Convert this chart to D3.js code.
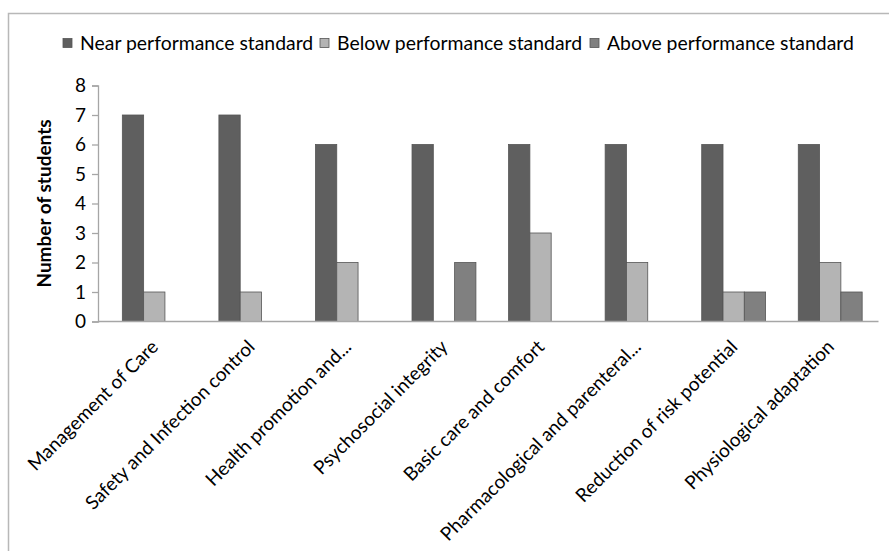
<!DOCTYPE html>
<html><head><meta charset="utf-8">
<script src="https://cdn.jsdelivr.net/npm/d3@7"></script>
<style>body{margin:0;background:#fff}svg{display:block}</style></head>
<body><svg id="c" width="889" height="551"></svg>
<script>
const categories = ["Management of Care","Safety and Infection control","Health promotion and...","Psychosocial integrity","Basic care and comfort","Pharmacological and parenteral...","Reduction of risk potential","Physiological adaptation"];
const seriesNames = ["Near performance standard","Below performance standard","Above performance standard"];
const nearValues = [7,7,6,6,6,6,6,6];
const belowValues = [1,1,2,0,3,2,1,2];
const aboveValues = [0,0,0,2,0,0,1,1];
const yTicks = [0,1,2,3,4,5,6,7,8];
const colors = ["#5f5f5f","#b4b4b4","#808080"];
const yTitle = "Number of students";

const FONT = "Lato, 'Open Sans', sans-serif";
const svg = d3.select("#c");

// frame
svg.append("rect").attr("x",8.5).attr("y",13.5).attr("width",1000).attr("height",1000)
  .attr("fill","#fff").attr("stroke","#b8b8b8").attr("stroke-width",1.5);

const seriesValues = [nearValues, belowValues, aboveValues];
const x0 = d3.scaleBand().domain(categories).range([106, 878.5]).padding(0);
const x1 = d3.scaleBand().domain(seriesNames).range([0, x0.bandwidth()]).paddingInner(0).paddingOuter(0.767);
const y = d3.scaleLinear().domain([0,8]).range([321.5, 85.5]);

// bars
const rows = [];
categories.forEach((c,i)=>seriesNames.forEach((s,j)=>rows.push({c,s,j,v:seriesValues[j][i]})));
svg.append("g").selectAll("rect").data(rows.filter(d=>d.v>0)).join("rect")
  .attr("x",d=>x0(d.c)+x1(d.s)).attr("width",x1.bandwidth())
  .attr("y",d=>y(d.v)).attr("height",d=>y(0)-y(d.v))
  .attr("fill",d=>colors[d.j]).attr("stroke","#555").attr("stroke-width",0.8);

// y axis
const ya = svg.append("g").attr("transform","translate(98,0)")
  .call(d3.axisLeft(y).tickValues(yTicks).tickSize(6).tickPadding(6).tickFormat(d3.format("d")));
ya.select(".domain").attr("stroke","#a6a6a6").attr("stroke-width",1.3);
ya.selectAll(".tick line").attr("stroke","#a6a6a6").attr("stroke-width",1.3);
ya.selectAll(".tick text").attr("font-family",FONT).attr("font-size",19).attr("fill","#000");

// x axis baseline
svg.append("line").attr("x1",98).attr("x2",878.5).attr("y1",y(0)).attr("y2",y(0))
  .attr("stroke","#a6a6a6").attr("stroke-width",1.3);

// category labels
svg.append("g").selectAll("text").data(categories).join("text")
  .attr("transform",d=>`translate(${x0(d)+x0.bandwidth()/2-5},338) rotate(-45)`)
  .attr("text-anchor","end").attr("dy","0.75em")
  .attr("font-family",FONT).attr("font-size",19).attr("fill","#000").text(d=>d);

// y title
svg.append("text").attr("transform","translate(51,203.5) rotate(-90)")
  .attr("text-anchor","middle").attr("font-family",FONT).attr("font-weight","bold")
  .attr("font-size",19).attr("fill","#000").text(yTitle);

// legend
const legX = [63, 320, 590];
const lg = svg.append("g").selectAll("g").data(seriesNames).join("g")
  .attr("transform",(d,i)=>`translate(${legX[i]},0)`);
lg.append("rect").attr("x",0).attr("y",38.5).attr("width",9).attr("height",9)
  .attr("fill",(d,i)=>colors[i]).attr("stroke","#555").attr("stroke-width",0.8);
lg.append("text").attr("x",17).attr("y",50).attr("font-family",FONT).attr("font-size",19.4)
  .attr("fill","#000").text(d=>d);
</script></body></html>
